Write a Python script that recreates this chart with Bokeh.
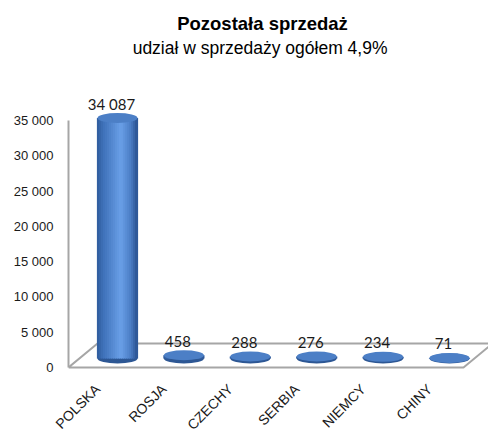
import numpy as np
from bokeh.plotting import figure
from bokeh.models import Range1d, FixedTicker
from bokeh.core.properties import value
from bokeh.embed import file_html
from bokeh.resources import INLINE

# ---- data ----
categories = ["POLSKA", "ROSJA", "CZECHY", "SERBIA", "NIEMCY", "CHINY"]
sales = [34087, 458, 288, 276, 234, 71]
value_labels = ["34 087", "458", "288", "276", "234", "71"]
y_ticks = [0, 5000, 10000, 15000, 20000, 25000, 30000, 35000]
y_tick_labels = ["0", "5 000", "10 000", "15 000", "20 000", "25 000", "30 000", "35 000"]
title_text = "Pozostała sprzedaż"
subtitle_text = "udział  w sprzedaży ogółem 4,9%"

# ---- layout / style ----
W = 488
LEFT = 68
FRAME_BOTTOM = 372           # pixel row of frame bottom
ZERO_ROW = 367               # pixel row of value 0
UNIT_PX = 66.4               # pixels per category
Y_PER_PX = 35000 / 247.0     # data units per pixel
BAR0_COL = 117               # pixel column of first cylinder
SHIFT_PX = 20                # cylinders sit right of their label anchor


def dx(px):
    return px / UNIT_PX


def dy(px):
    return px * Y_PER_PX


def col(px):
    return dx(px - (BAR0_COL - SHIFT_PX))


def row(px):
    return dy(ZERO_ROW - px)


BAR_SHIFT = dx(SHIFT_PX)
x_start = col(LEFT)
x_end = x_start + dx(W - LEFT)
y_start = row(FRAME_BOTTOM)
y_end = row(0)

p = figure(frame_width=W - LEFT, frame_height=FRAME_BOTTOM,
           x_range=Range1d(x_start, x_end), y_range=Range1d(y_start, y_end),
           output_backend="svg", toolbar_location=None,
           min_border_left=LEFT, min_border_right=0, min_border_top=0,
           min_border_bottom=0)
p.outline_line_color = None
p.grid.visible = False
p.background_fill_color = "white"
p.border_fill_color = "white"

# floor (3D base)
floor_len = dx(395)
depth_x, depth_y = dx(29), dy(24)
p.patch([x_start, x_start + floor_len, x_start + floor_len + depth_x, x_start + depth_x],
        [0, 0, depth_y, depth_y], fill_color="white", line_color="#a6a6a6",
        line_width=2)

# cylinders
idx = np.arange(len(categories), dtype=float)
xs = idx + BAR_SHIFT
vals = np.array(sales, dtype=float)
BASE = dy(9)
bottoms = np.full(len(vals), BASE)
tops = BASE + vals
BAR_W = dx(40)
ELL_H = dy(10)


def hex2rgb(h):
    return np.array([int(h[i:i + 2], 16) for i in (1, 3, 5)], dtype=float)


stops = [(0.0, hex2rgb("#2f5c9c")), (0.15, hex2rgb("#3e70b8")),
         (0.6, hex2rgb("#6aa0e8")), (0.85, hex2rgb("#4a7cc4")),
         (1.0, hex2rgb("#2a5290"))]


def grad(t):
    for (t0, c0), (t1, c1) in zip(stops[:-1], stops[1:]):
        if t <= t1:
            f = (t - t0) / (t1 - t0)
            c = c0 + (c1 - c0) * f
            return "#%02x%02x%02x" % tuple(int(round(v)) for v in c)
    return "#2a5290"


p.ellipse(x=xs, y=bottoms, width=BAR_W, height=ELL_H, fill_color="#2d5794",
          line_color=None)
N = 20
sw = BAR_W / N
for j in range(N):
    off = -BAR_W / 2 + (j + 0.5) * sw
    p.vbar(x=xs + off, width=sw * 1.6, top=tops, bottom=bottoms,
           fill_color=grad((j + 0.5) / N), line_color=None)
p.ellipse(x=xs, y=tops, width=BAR_W, height=ELL_H, fill_color="#4c7fc6",
          line_color=None)

# value labels
p.text(x=xs - dx(6), y=tops + dy(14), text=value_labels, text_align="center",
       text_baseline="alphabetic", text_font=value("Lato"),
       text_font_size="15px", text_color="#1a1a1a")

# titles
cx = col(262)
p.text(x=[cx], y=[row(23)], text=[title_text], text_align="center",
       text_baseline="alphabetic", text_font=value("Liberation Sans"),
       text_font_style="bold", text_font_size="18.5px", text_color="#000000")
p.text(x=[cx], y=[row(47)], text=[subtitle_text], text_align="center",
       text_baseline="alphabetic", text_font=value("Liberation Sans"),
       text_font_size="17.5px", text_color="#000000")

# y axis
ax = p.yaxis[0]
ax.ticker = FixedTicker(ticks=y_ticks)
ax.major_label_overrides = {t: l for t, l in zip(y_ticks, y_tick_labels)}
ax.bounds = (0, 35000)
ax.axis_line_color = "#a6a6a6"
ax.axis_line_width = 2
ax.major_tick_line_color = None
ax.minor_tick_line_color = None
ax.major_tick_out = 0
ax.major_tick_in = 0
ax.major_label_standoff = 15
ax.major_label_text_font = "Liberation Sans"
ax.major_label_text_font_size = "13px"
ax.major_label_text_color = "#1a1a1a"

# x axis (category labels, rotated)
xa = p.xaxis[0]
xa.ticker = FixedTicker(ticks=list(range(len(categories))))
xa.major_label_overrides = {i: c for i, c in enumerate(categories)}
xa.major_label_orientation = np.pi / 4
xa.axis_line_color = None
xa.major_tick_line_color = None
xa.minor_tick_line_color = None
xa.major_tick_out = 0
xa.major_tick_in = 0
xa.major_label_standoff = 14
xa.major_label_text_font = "Liberation Sans"
xa.major_label_text_font_size = "14px"
xa.major_label_text_color = "#1a1a1a"

open("out.html", "w").write(file_html(p, INLINE))
